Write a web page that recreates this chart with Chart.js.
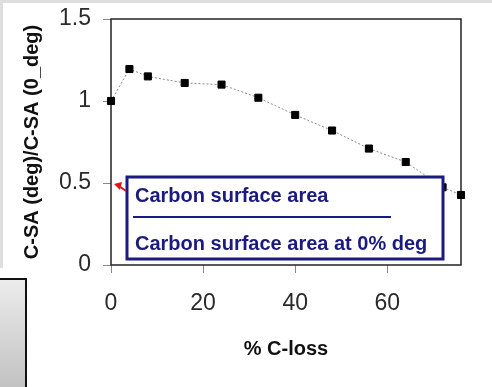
<!DOCTYPE html>
<html>
<head>
<meta charset="utf-8">
<script src="https://cdn.jsdelivr.net/npm/chart.js@4.4.1/dist/chart.umd.min.js"></script>
<style>
  html, body { margin: 0; padding: 0; background: #fff; }
  canvas { display: block; }
</style>
</head>
<body>
<canvas id="chart" width="492" height="387"></canvas>
<script>
// data
const cLoss = [0, 4, 8, 16, 24, 32, 40, 48, 56, 64, 72, 76];
const saRatio = [1.0, 1.195, 1.15, 1.11, 1.10, 1.02, 0.915, 0.82, 0.71, 0.628, 0.474, 0.427];
const yTicks = [0, 0.5, 1, 1.5];
const xTicks = [0, 20, 40, 60];
const legendLines = ['Carbon surface area', 'Carbon surface area at 0% deg'];

const navy = '#1a1a80';
const fam = '"Liberation Sans", Arial, sans-serif';

// decorations around the plot + frame + the legend box with its arrow
const decorations = {
	id: 'decorations',
	beforeDraw(chart) {
		const ctx = chart.ctx;
		ctx.save();
		ctx.fillStyle = '#dedede';
		ctx.fillRect(0, 0, 492, 3);
		ctx.fillRect(0, 0, 3, 268);
		// grey box bottom left
		const g = ctx.createLinearGradient(0, 278, 0, 387);
		g.addColorStop(0, '#ededed');
		g.addColorStop(1, '#c2c2c2');
		ctx.fillStyle = g;
		ctx.fillRect(0, 278, 27, 109);
		ctx.strokeStyle = '#111';
		ctx.lineWidth = 2;
		ctx.beginPath();
		ctx.moveTo(0, 279);
		ctx.lineTo(26, 279);
		ctx.lineTo(26, 387);
		ctx.stroke();
		ctx.restore();
	},
	beforeDatasetsDraw(chart) {
		const {ctx, chartArea: a} = chart;
		ctx.save();
		ctx.strokeStyle = '#222';
		ctx.lineWidth = 1.5;
		ctx.strokeRect(a.left, a.top, a.right - a.left, a.bottom - a.top);
		ctx.restore();
	},
	afterDatasetsDraw(chart) {
		const {ctx, chartArea: a} = chart;
		const bx = a.left + 16, by = a.bottom - 88, bw = 316, bh = 82;
		ctx.save();
		ctx.fillStyle = '#fff';
		ctx.fillRect(bx, by, bw, bh);
		ctx.strokeStyle = navy;
		ctx.lineWidth = 3;
		ctx.strokeRect(bx, by, bw, bh);
		ctx.fillStyle = navy;
		ctx.font = 'bold 20px ' + fam;
		ctx.textBaseline = 'alphabetic';
		ctx.fillText(legendLines[0], bx + 8, by + 25);
		ctx.fillText(legendLines[1], bx + 8, by + 73);
		ctx.lineWidth = 2;
		ctx.beginPath();
		ctx.moveTo(bx + 6, by + 40);
		ctx.lineTo(bx + 264, by + 40);
		ctx.stroke();
		// red arrow to the axis
		const ax = a.left + 3, ay = chart.scales.y.getPixelForValue(0.5) + 1;
		ctx.strokeStyle = '#e01515';
		ctx.fillStyle = '#e01515';
		ctx.lineWidth = 2;
		ctx.beginPath();
		ctx.moveTo(bx - 1, ay + 7);
		ctx.lineTo(ax + 5, ay + 2);
		ctx.stroke();
		ctx.beginPath();
		ctx.moveTo(ax, ay);
		ctx.lineTo(ax + 8, ay - 2);
		ctx.lineTo(ax + 6, ay + 6);
		ctx.closePath();
		ctx.fill();
		ctx.restore();
	}
};

new Chart(document.getElementById('chart'), {
	type: 'scatter',
	data: {
		datasets: [{
			data: cLoss.map((x, i) => ({ x: x, y: saRatio[i] })),
			showLine: true,
			borderColor: '#8a8a8a',
			borderWidth: 1,
			borderDash: [2, 2],
			pointStyle: 'rect',
			pointRadius: 5,
			pointBorderWidth: 1,
			pointBackgroundColor: '#000',
			pointBorderColor: '#000',
			clip: false
		}]
	},
	options: {
		responsive: false,
		animation: false,
		devicePixelRatio: 1,
		layout: { padding: { left: 0, top: 19, right: 31, bottom: 0 } },
		plugins: { legend: { display: false }, tooltip: { enabled: false } },
		scales: {
			x: {
				type: 'linear',
				min: 0,
				max: 76,
				afterFit: s => { s.height = 122; },
				afterBuildTicks: s => { s.ticks = xTicks.map(v => ({ value: v })); },
				ticks: { font: { family: fam, size: 23 }, color: '#2a2a2a', padding: 17 },
				grid: { drawOnChartArea: false, tickLength: 8, color: '#888' },
				border: { display: false },
				title: {
					display: true,
					text: '% C-loss',
					color: '#111',
					font: { family: fam, size: 20, weight: 'bold' },
					padding: { top: 0, bottom: 26 }
				}
			},
			y: {
				min: 0,
				max: 1.5,
				afterFit: s => { s.width = 111; s.paddingTop = 0; s.paddingBottom = 0; },
				afterBuildTicks: s => { s.ticks = yTicks.map(v => ({ value: v })); },
				ticks: { font: { family: fam, size: 23 }, color: '#2a2a2a', padding: 12, callback: v => String(v) },
				grid: { drawOnChartArea: false, tickLength: 8, color: '#888' },
				border: { display: false },
				title: {
					display: true,
					text: 'C-SA (deg)/C-SA (0_deg)',
					color: '#111',
					font: { family: fam, size: 20, weight: 'bold' },
					padding: { top: 20, bottom: 0 }
				}
			}
		}
	},
	plugins: [decorations]
});
</script>
</body>
</html>
